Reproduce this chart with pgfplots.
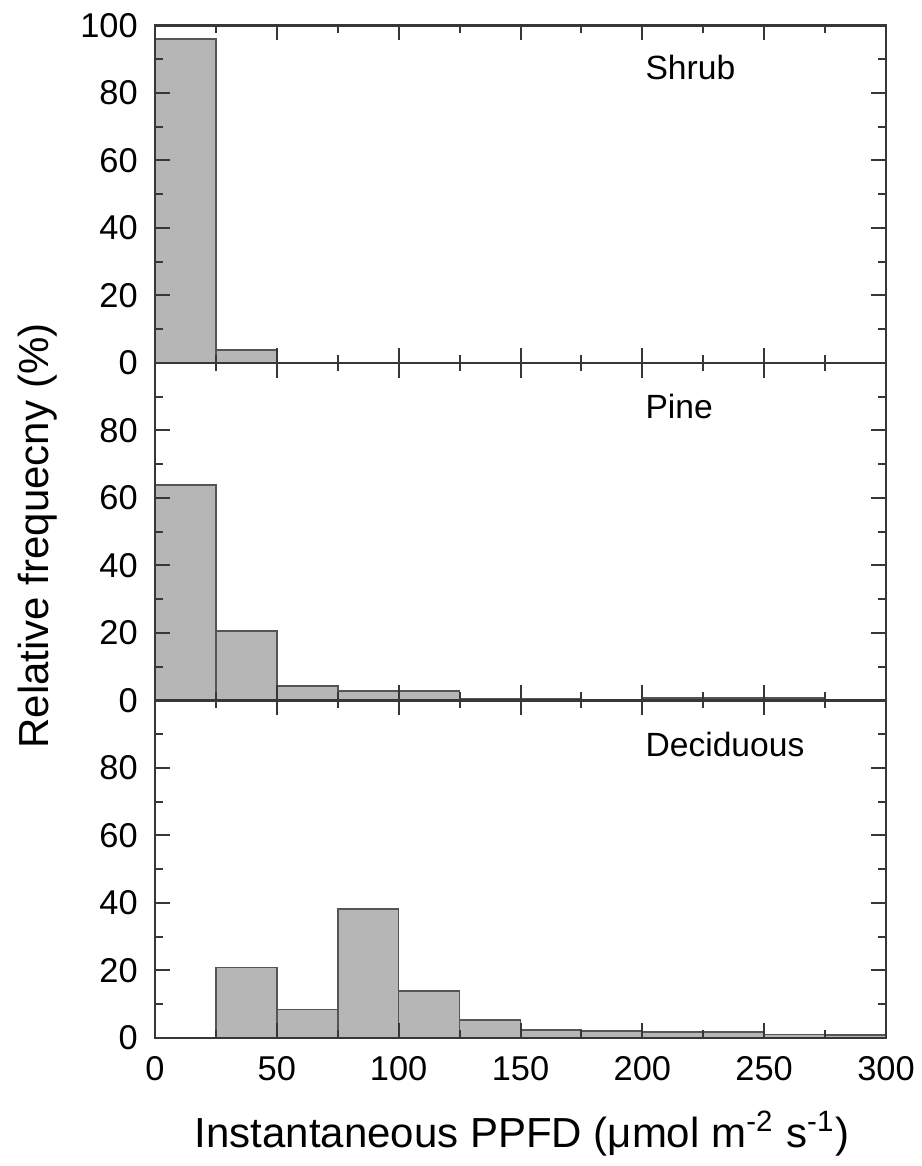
\documentclass[border=0pt]{standalone}
\usepackage{fontspec}
\setmainfont{Liberation Sans}
\usepackage{pgfplots}
\pgfplotsset{compat=1.18}
\definecolor{barfill}{RGB}{182,182,182}
\definecolor{baredge}{RGB}{85,85,85}
\definecolor{axcol}{RGB}{55,55,55}
\tikzset{lab/.style={anchor=base west, inner sep=0pt, font=\fontsize{8.4}{9}\selectfont}}
\pgfplotsset{
 panel/.style={
  scale only axis, width=182.75pt, height=84.375pt,
  xmin=0, xmax=300, ymin=0, ymax=100,
  xtick={0,50,...,300}, minor xtick={25,75,...,275},
  minor ytick={10,30,...,90},
  tick align=inside,
  major tick length=3.75pt, minor tick length=2pt,
  tick style={axcol, line width=0.5pt},
  axis line style={axcol, line width=0.6pt},
  ticklabel style={font=\fontsize{8.6}{9}\selectfont},
  xticklabel style={yshift=-1.2pt},
  yticklabel style={xshift=-0.8pt},
  /pgf/number format/assume math mode=true,
  axis on top,
  anchor=south west,
 },
 hist/.style={ybar interval, fill=barfill, draw=baredge, line width=0.4pt},
}
\begin{document}
\begin{tikzpicture}[x=1pt,y=1pt]
% Shrub
\begin{axis}[panel, at={(38.75pt,200.75pt)}, ytick={0,20,...,100}, xticklabels={}]
\addplot[hist] coordinates {(0,96) (25,3.8) (50,0) (75,0) (100,0) (125,0) (150,0) (175,0) (200,0) (225,0) (250,0) (275,0) (300,0)};
\node[lab] at (axis cs:201,84) {Shrub};
\end{axis}
% Pine
\begin{axis}[panel, at={(38.75pt,116.375pt)}, ytick={0,20,...,80}, xticklabels={}]
\addplot[hist] coordinates {(0,63.8) (25,20.6) (50,4.3) (75,2.8) (100,2.8) (125,0.6) (150,0.6) (175,0.2) (200,0.7) (225,0.7) (250,0.7) (275,0) (300,0)};
\node[lab] at (axis cs:201,83.5) {Pine};
\end{axis}
% Deciduous
\begin{axis}[panel, at={(38.75pt,32pt)}, ytick={0,20,...,80}, xticklabels={0,50,100,150,200,250,300}]
\addplot[hist] coordinates {(0,0) (25,20.9) (50,8.4) (75,38.3) (100,14.0) (125,5.3) (150,2.4) (175,2.0) (200,1.8) (225,1.8) (250,1.0) (275,0.9) (300,0.9)};
\node[lab] at (axis cs:201,83.5) {Deciduous};
\end{axis}
\node[rotate=90, font=\fontsize{10.5}{12}\selectfont] at (9.5pt,157.5pt) {Relative frequecny (\%)};
\node[anchor=base, font=\fontsize{10.5}{12}\selectfont] at (130.5pt,4.75pt) {Instantaneous PPFD (μmol m\textsuperscript{-2} s\textsuperscript{-1})};
\pgfresetboundingbox
\path (0pt,0pt) rectangle (230.25pt,291.5pt);
\end{tikzpicture}
\end{document}
